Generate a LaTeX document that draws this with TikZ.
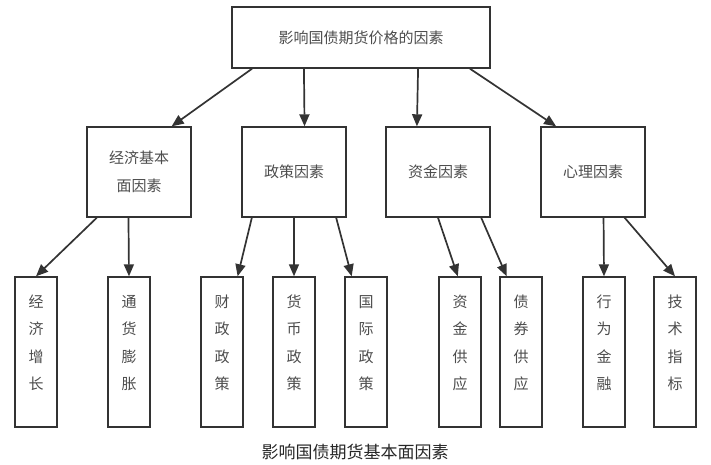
\documentclass[tikz,border=0pt]{standalone}
\usepackage{fontspec}
\newfontfamily\cjk{Noto Sans CJK SC}
\usetikzlibrary{arrows.meta,calc}

\tikzset{
    box/.style={draw=black!80, line width=1.4pt, text=black!70, inner sep=0pt,
        font=\cjk\fontsize{15}{27.5}\selectfont, align=center},
    rootbox/.style={box, minimum width=258pt, minimum height=61pt},
    midbox/.style={box, minimum width=104pt, minimum height=90pt},
    leafbox/.style={box, minimum width=42pt, minimum height=150pt,
        text height=95pt, text depth=20pt},
    arr/.style={draw=black!80, line width=1.7pt, -{Triangle[length=12pt,width=10pt]}}
}

\begin{document}
\begin{tikzpicture}[x=1pt,y=-1pt]
    \useasboundingbox (0,0) rectangle (711,465);

    % Define top and middle boxes
    \node[rootbox] (root) at (361,37.5) {影响国债期货价格的因素};
    \node[midbox] (econ) at (139,172) {经济基本\\面因素};
    \node[midbox] (policy) at (294,172) {政策因素};
    \node[midbox] (fund) at (438,172) {资金因素};
    \node[midbox] (psych) at (593,172) {心理因素};

    % Define leaf boxes
    \foreach \name/\x/\txt in {growth/36/{经\\济\\增\\长}, infl/129/{通\\货\\膨\\胀},
        fiscal/222/{财\\政\\政\\策}, money/294/{货\\币\\政\\策}, intl/366/{国\\际\\政\\策},
        supply/460/{资\\金\\供\\应}, bond/521/{债\\券\\供\\应},
        behav/604/{行\\为\\金\\融}, tech/675/{技\\术\\指\\标}} {
        \node[leafbox] (\name) at (\x,352) {\txt};
    }

    % Arrows between levels
    \foreach \from/\a/\to/\b in {root/0.08/econ/0.81, root/0.28/policy/0.6,
        root/0.72/fund/0.3, root/0.92/psych/0.15,
        econ/0.1/growth/0.5, econ/0.4/infl/0.5,
        policy/0.1/fiscal/0.86, policy/0.5/money/0.5, policy/0.9/intl/0.17,
        fund/0.5/supply/0.45, fund/0.91/bond/0.17,
        psych/0.6/behav/0.5, psych/0.8/tech/0.5} {
        \draw[arr] ($(\from.south west)!\a!(\from.south east)$) -- ($(\to.north west)!\b!(\to.north east)$);
    }

    \node[font=\cjk\fontsize{17}{20}\selectfont, text=black!85] (caption) at (355,452) {影响国债期货基本面因素};
\end{tikzpicture}
\end{document}
